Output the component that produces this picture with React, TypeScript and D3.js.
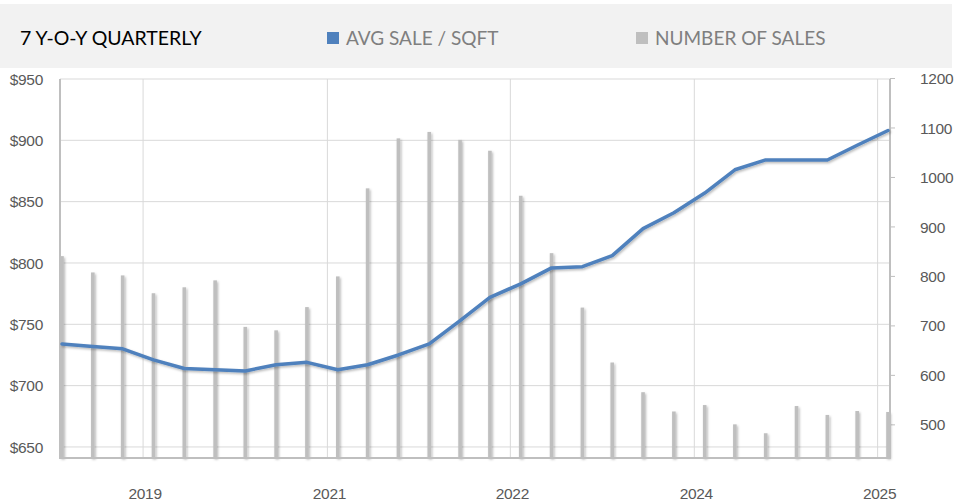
import React, { useEffect, useRef } from 'react';
import * as d3 from 'd3';

// quarterly periods (7 years)
const periods: string[] = [
  '2018-11-01', '2019-02-01', '2019-05-01', '2019-08-01',
  '2019-11-01', '2020-02-01', '2020-05-01', '2020-08-01',
  '2020-11-01', '2021-02-01', '2021-05-01', '2021-08-01',
  '2021-11-01', '2022-02-01', '2022-05-01', '2022-08-01',
  '2022-11-01', '2023-02-01', '2023-05-01', '2023-08-01',
  '2023-11-01', '2024-02-01', '2024-05-01', '2024-08-01',
  '2024-11-01', '2025-02-01', '2025-05-01', '2025-08-01'
];

const avgSaleSqft: number[] = [
  734, 732, 730, 721, 714, 713, 712, 717, 719, 713, 717, 725, 734, 753,
  772, 783, 796, 797, 806, 828, 841, 857, 876, 884, 884, 884, 896, 908
];

const numberOfSales: number[] = [
  841, 808, 802, 766, 778, 792, 698, 691, 738, 800, 978, 1079, 1092, 1076,
  1054, 963, 847, 737, 626, 566, 527, 540, 501, 483, 538, 520, 528, 526
];

const yearTicks: string[] = ['2019-07-01', '2021-01-01', '2022-07-01', '2024-01-01', '2025-07-01'];
const leftTicks: number[] = [650, 700, 750, 800, 850, 900, 950];
const rightTicks: number[] = [500, 600, 700, 800, 900, 1000, 1100, 1200];

const title = '7 Y-O-Y QUARTERLY';
const seriesNames = ['AVG SALE / SQFT', 'NUMBER OF SALES'];

const BLUE = '#4f81bd';
const BAR = '#bfbfbf';

const QuarterlyChart: React.FC = () => {
  const chartRef = useRef<SVGSVGElement>(null);

  useEffect(() => {
    if (!chartRef.current) return;
    const svg = d3.select(chartRef.current);
    svg.selectAll('*').remove();

    const W = 955;
    const H = 504;
    const plot = { left: 60, right: 890, top: 79, bottom: 458 };

    svg.attr('width', W).attr('height', H);

    const parse = d3.timeParse('%Y-%m-%d');
    const dates = periods.map(p => parse(p) as Date);

    // Scales
    const x = d3.scaleTime()
      .domain([dates[0], dates[dates.length - 1]])
      .range([62, 888]);
    const yLeft = d3.scaleLinear().domain([641, 950]).range([plot.bottom, plot.top]);
    const yRight = d3.scaleLinear().domain([433, 1200]).range([plot.bottom, 78.5]);

    // Shadow filter
    const defs = svg.append('defs');
    const shadow = defs.append('filter')
      .attr('id', 'soft-shadow')
      .attr('x', '-20%').attr('y', '-20%')
      .attr('width', '140%').attr('height', '140%');
    shadow.append('feDropShadow')
      .attr('dx', 1.2).attr('dy', 1.5)
      .attr('stdDeviation', 1.2)
      .attr('flood-color', '#000')
      .attr('flood-opacity', 0.28);

    // Header band
    svg.append('rect')
      .attr('x', 0).attr('y', 4)
      .attr('width', 952).attr('height', 64)
      .attr('fill', '#f2f2f2');

    const headFont = 'Lato, "Open Sans", sans-serif';
    svg.append('text')
      .attr('x', 20).attr('y', 45)
      .attr('font-family', headFont)
      .attr('font-size', 19.5)
      .attr('fill', '#000')
      .text(title);

    const legend = [
      { name: seriesNames[0], color: BLUE, x: 327 },
      { name: seriesNames[1], color: BAR, x: 636 }
    ];
    legend.forEach(l => {
      svg.append('rect')
        .attr('x', l.x).attr('y', 32)
        .attr('width', 12).attr('height', 12)
        .attr('fill', l.color);
      svg.append('text')
        .attr('x', l.x + 19).attr('y', 45)
        .attr('font-family', headFont)
        .attr('font-size', 19)
        .attr('fill', '#7f7f7f')
        .text(l.name);
    });

    // Grid lines
    svg.append('g')
      .selectAll('line')
      .data(leftTicks)
      .enter()
      .append('line')
      .attr('x1', plot.left).attr('x2', plot.right)
      .attr('y1', d => yLeft(d)).attr('y2', d => yLeft(d))
      .attr('stroke', '#d9d9d9').attr('stroke-width', 1);

    const yearDates = yearTicks.map(t => parse(t) as Date);
    svg.append('g')
      .selectAll('line')
      .data(yearDates)
      .enter()
      .append('line')
      .attr('x1', d => x(d)).attr('x2', d => x(d))
      .attr('y1', plot.top).attr('y2', plot.bottom)
      .attr('stroke', '#d9d9d9').attr('stroke-width', 1);

    // Right axis tick marks
    svg.append('g')
      .selectAll('line')
      .data(rightTicks)
      .enter()
      .append('line')
      .attr('x1', plot.right).attr('x2', plot.right + 5)
      .attr('y1', d => yRight(d)).attr('y2', d => yRight(d))
      .attr('stroke', '#bfbfbf');

    // Bars
    svg.append('g')
      .attr('filter', 'url(#soft-shadow)')
      .selectAll('rect')
      .data(numberOfSales)
      .enter()
      .append('rect')
      .attr('x', (d, i) => x(dates[i]) - 1.8)
      .attr('width', 3.6)
      .attr('y', d => yRight(d))
      .attr('height', d => plot.bottom - yRight(d))
      .attr('fill', BAR);

    // Plot frame (left, bottom, right)
    svg.append('path')
      .attr('d', `M${plot.left},${plot.top}V${plot.bottom}H${plot.right}V${plot.top}`)
      .attr('fill', 'none')
      .attr('stroke', '#bfbfbf')
      .attr('stroke-width', 2);

    // Line
    const line = d3.line<number>()
      .x((d, i) => x(dates[i]))
      .y(d => yLeft(d));

    svg.append('path')
      .datum(avgSaleSqft)
      .attr('d', line)
      .attr('fill', 'none')
      .attr('stroke', BLUE)
      .attr('stroke-width', 3.5)
      .attr('stroke-linejoin', 'round')
      .attr('stroke-linecap', 'round')
      .attr('filter', 'url(#soft-shadow)');

    // Axis labels
    const labelFont = '"Liberation Sans", Arial, sans-serif';
    svg.append('g')
      .selectAll('text')
      .data(leftTicks)
      .enter()
      .append('text')
      .attr('x', 43)
      .attr('y', d => yLeft(d))
      .attr('dy', '0.36em')
      .attr('text-anchor', 'end')
      .attr('font-family', labelFont)
      .attr('font-size', 15.5)
      .attr('letter-spacing', -0.3)
      .attr('fill', '#595959')
      .text(d => `$${d}`);

    svg.append('g')
      .selectAll('text')
      .data(rightTicks)
      .enter()
      .append('text')
      .attr('x', 920)
      .attr('y', d => yRight(d))
      .attr('dy', '0.36em')
      .attr('font-family', labelFont)
      .attr('font-size', 15.5)
      .attr('letter-spacing', -0.3)
      .attr('fill', '#595959')
      .text(d => `${d}`);

    const fmtYear = d3.timeFormat('%Y');
    svg.append('g')
      .selectAll('text')
      .data(yearDates)
      .enter()
      .append('text')
      .attr('x', d => x(d) + 2)
      .attr('y', 499)
      .attr('text-anchor', 'middle')
      .attr('font-family', labelFont)
      .attr('font-size', 15.5)
      .attr('letter-spacing', -0.3)
      .attr('fill', '#595959')
      .text(d => fmtYear(d));
  }, []);

  return (
    <svg ref={chartRef} style={{ position: 'absolute', left: 0, top: 0 }}></svg>
  );
};

export default function App() {
  return <QuarterlyChart />;
}
